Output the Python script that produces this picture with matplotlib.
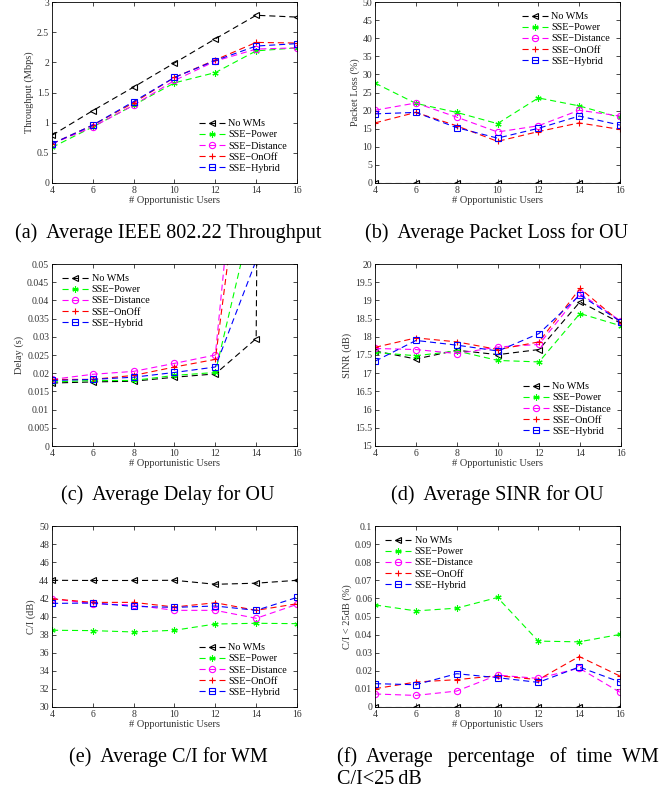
import numpy as np
import matplotlib
matplotlib.use("Agg")
import matplotlib.pyplot as plt
from matplotlib.ticker import FormatStrFormatter

plt.rcParams["font.family"] = ["Liberation Serif", "DejaVu Serif"]

users = [4, 6, 8, 10, 12, 14, 16]
names = ["No WMs", "SSE\u2212Power", "SSE\u2212Distance", "SSE\u2212OnOff", "SSE\u2212Hybrid"]

# (a) throughput, Mbps
thr_nowm = [0.79, 1.20, 1.59, 1.99, 2.39, 2.78, 2.75]
thr_power = [0.59, 0.93, 1.29, 1.66, 1.83, 2.19, 2.24]
thr_dist = [0.65, 0.93, 1.29, 1.70, 2.02, 2.22, 2.24]
thr_onoff = [0.65, 0.96, 1.33, 1.75, 2.04, 2.33, 2.32]
thr_hybrid = [0.65, 0.96, 1.35, 1.75, 2.03, 2.27, 2.31]

# (b) packet loss, %
pl_nowm = [0, 0, 0, 0, 0, 0, 0]
pl_power = [27.6, 22.0, 19.5, 16.4, 23.5, 21.3, 18.1]
pl_dist = [20.1, 22.1, 18.2, 14.1, 15.8, 20.1, 18.5]
pl_onoff = [16.6, 19.5, 15.8, 11.5, 14.2, 16.6, 14.8]
pl_hybrid = [19.1, 19.5, 15.3, 12.4, 15.1, 18.5, 16.0]

# (c) delay, s (last points go far off the top of the axes)
dl_nowm = [0.0173, 0.0176, 0.0178, 0.0189, 0.0198, 0.0295, 1.5]
dl_power = [0.0176, 0.0180, 0.0180, 0.0194, 0.0202, 0.068, 0.9]
dl_dist = [0.0183, 0.0197, 0.0205, 0.0227, 0.0250, 0.139, 0.9]
dl_onoff = [0.0183, 0.0183, 0.0194, 0.0217, 0.0238, 0.111, 0.9]
dl_hybrid = [0.0180, 0.0183, 0.0189, 0.0202, 0.0217, 0.051, 0.9]

# (d) SINR, dB
sinr_nowm = [17.61, 17.39, 17.63, 17.51, 17.65, 18.96, 18.37]
sinr_power = [17.57, 17.48, 17.61, 17.35, 17.31, 18.64, 18.30]
sinr_dist = [17.68, 17.65, 17.54, 17.72, 17.79, 19.19, 18.43]
sinr_onoff = [17.71, 17.97, 17.86, 17.65, 17.86, 19.33, 18.39]
sinr_hybrid = [17.33, 17.90, 17.77, 17.61, 18.09, 19.15, 18.41]

# (e) C/I, dB
ci_nowm = [44.0, 43.98, 43.98, 44.0, 43.56, 43.68, 44.0]
ci_power = [38.48, 38.44, 38.29, 38.48, 39.17, 39.25, 39.21]
ci_dist = [41.96, 41.41, 41.27, 40.68, 40.68, 39.80, 41.34]
ci_onoff = [41.96, 41.56, 41.56, 41.05, 41.52, 40.68, 41.41]
ci_hybrid = [41.45, 41.49, 41.12, 41.01, 41.16, 40.68, 42.11]

# (f) fraction of time C/I < 25 dB
lo_nowm = [0, 0, 0, 0, 0, 0, 0]
lo_power = [0.0564, 0.0531, 0.0546, 0.0605, 0.0364, 0.0360, 0.0401]
lo_dist = [0.0072, 0.0064, 0.0088, 0.0176, 0.0158, 0.0215, 0.0081]
lo_onoff = [0.0101, 0.0138, 0.0151, 0.0173, 0.0151, 0.0279, 0.0171]
lo_hybrid = [0.0129, 0.0123, 0.0184, 0.0162, 0.0136, 0.0221, 0.0138]

colors = ["black", "#00ff00", "#ff00ff", "red", "blue"]
markers = ["<", (6, 2, 0), "o", "+", "s"]
fills = ["none", "#00ff00", "none", "red", "none"]

fig = plt.figure(figsize=(6.62, 7.94), dpi=100)

W, H = 662, 794


def panel(left, top, right, bottom, series, ylim, ystep, ylabel, legloc):
    ax = fig.add_axes([left / W, 1 - bottom / H, (right - left) / W, (bottom - top) / H])
    for s, c, m, mf, n in zip(series, colors, markers, fills, names):
        ax.plot(users, s, linestyle="--", dashes=(5.5, 3.5), color=c, marker=m,
                markerfacecolor=mf, markeredgecolor=c, markersize=4.5,
                markeredgewidth=0.8, linewidth=0.8, label=n)
    ax.set_xlim(4, 16)
    ax.set_ylim(*ylim)
    ax.set_xticks(users)
    ax.set_yticks(np.arange(ylim[0], ylim[1] + ystep / 2, ystep))
    ax.yaxis.set_major_formatter(FormatStrFormatter("%g"))
    ax.tick_params(direction="in", top=True, right=True, labelsize=7, length=3,
                   width=0.5, pad=2, labelcolor="#333333")
    for sp in ax.spines.values():
        sp.set_linewidth(0.6)
    ax.set_xlabel("# Opportunistic Users", fontsize=7.5, labelpad=1, color="#333333")
    ax.set_ylabel(ylabel, fontsize=7.5, labelpad=2, color="#333333")
    ax.legend(loc=legloc, fontsize=7.3, frameon=False, handlelength=2.6,
              handletextpad=0.3, labelspacing=0.2, borderaxespad=0.6)
    return ax


panel(52, 2, 297, 183, [thr_nowm, thr_power, thr_dist, thr_onoff, thr_hybrid],
      (0, 3), 0.5, "Throughput (Mbps)", "lower right")
panel(375, 2, 620, 183, [pl_nowm, pl_power, pl_dist, pl_onoff, pl_hybrid],
      (0, 50), 5, "Packet Loss (%)", "upper right")
panel(52, 264, 297, 446, [dl_nowm, dl_power, dl_dist, dl_onoff, dl_hybrid],
      (0, 0.05), 0.005, "Delay (s)", "upper left")
panel(375, 264, 621, 446, [sinr_nowm, sinr_power, sinr_dist, sinr_onoff, sinr_hybrid],
      (15, 20), 0.5, "SINR (dB)", "lower right")
panel(52, 526, 297, 707, [ci_nowm, ci_power, ci_dist, ci_onoff, ci_hybrid],
      (30, 50), 2, "C/I (dB)", "lower right")
panel(375, 526, 620, 707, [lo_nowm, lo_power, lo_dist, lo_onoff, lo_hybrid],
      (0, 0.1), 0.01, "C/I < 25dB (%)", "upper left")

cap = 14.5
fig.text(168 / W, 1 - 233 / H, "(a)  Average IEEE 802.22 Throughput", ha="center", va="center", fontsize=cap)
fig.text(497 / W, 1 - 233 / H, "(b)  Average Packet Loss for OU", ha="center", va="center", fontsize=cap)
fig.text(168 / W, 1 - 495 / H, "(c)  Average Delay for OU", ha="center", va="center", fontsize=cap)
fig.text(497 / W, 1 - 495 / H, "(d)  Average SINR for OU", ha="center", va="center", fontsize=cap)
fig.text(168 / W, 1 - 757 / H, "(e)  Average C/I for WM", ha="center", va="center", fontsize=cap)
fig.text(337 / W, 1 - 757 / H, "(f)  Average   percentage   of  time  WM", ha="left", va="center", fontsize=cap)
fig.text(337 / W, 1 - 780 / H, "C/I<25\u2009dB", ha="left", va="center", fontsize=cap)

fig.savefig("out.png", dpi=100)
